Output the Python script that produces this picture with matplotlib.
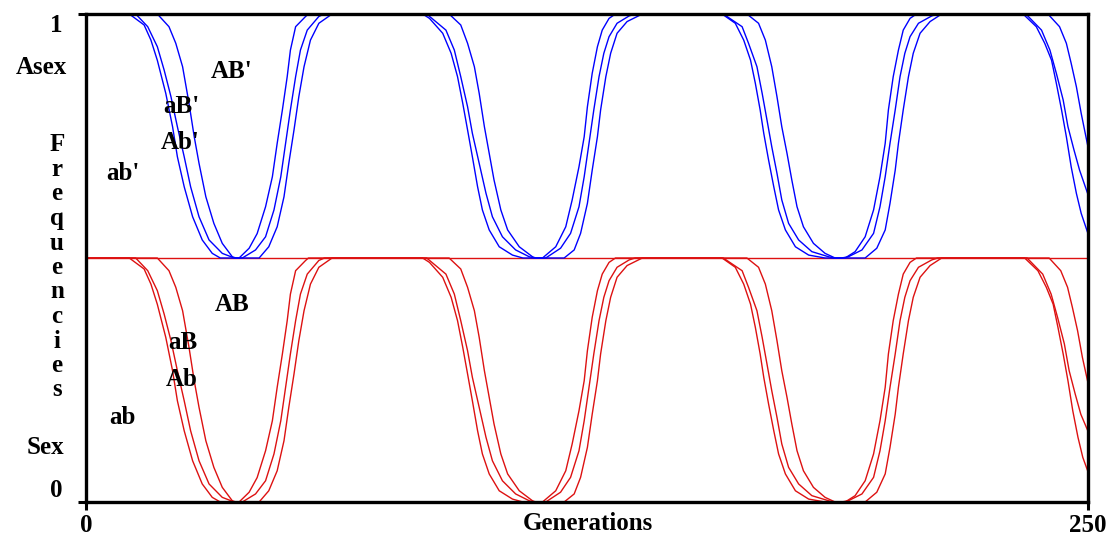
import matplotlib
matplotlib.use("Agg")
import matplotlib.pyplot as plt

# ---------------- data (generation, stacked cumulative fraction within each half) -------------
# Asexual population (top half, blue)
asex_ab_gen = [0, 10.8, 14.5, 16.2, 17.8, 19.9, 21.6, 22.8, 24.5, 26.6, 29.0, 31.5, 33.5,
               43.2, 45.6, 47.7, 49.4, 50.6, 51.9, 53.1, 54.4, 56.0, 58.1, 61.4,
               84.0, 85.7, 89.0, 91.1, 92.7, 94.0, 95.2, 96.4, 97.7, 98.9, 100.6, 103.1, 106.4, 109.0,
               119.3, 121.8, 123.4, 125.1, 126.3, 127.6, 128.4, 129.7, 130.9, 132.5, 135.0, 138.8,
               158.7, 162.0, 164.1, 165.8, 167.0, 168.2, 169.1, 170.3, 171.6, 172.8, 174.5, 177.0, 180.3, 184.4,
               194.4, 197.3, 199.4, 200.6, 201.9, 202.7, 203.9, 205.2, 206.4, 208.1, 210.6, 213.5,
               233.8, 237.1, 239.2, 240.9, 242.1, 243.4, 244.6, 245.8, 247.1, 248.3, 250]
asex_ab_val = [1, 1, 0.955, 0.893, 0.81, 0.675, 0.538, 0.415, 0.292, 0.169, 0.074, 0.019, 0,
               0, 0.046, 0.128, 0.251, 0.388, 0.525, 0.661, 0.784, 0.893, 0.962, 1,
               1, 0.982, 0.921, 0.839, 0.743, 0.634, 0.525, 0.415, 0.292, 0.197, 0.115, 0.046, 0.012, 0,
               0, 0.033, 0.101, 0.224, 0.36, 0.497, 0.607, 0.743, 0.839, 0.921, 0.969, 1,
               1, 0.962, 0.893, 0.811, 0.716, 0.607, 0.511, 0.402, 0.292, 0.197, 0.115, 0.046, 0.012, 0,
               0, 0.04, 0.115, 0.224, 0.36, 0.47, 0.607, 0.743, 0.839, 0.921, 0.969, 1,
               1, 0.948, 0.88, 0.811, 0.716, 0.607, 0.497, 0.374, 0.265, 0.183, 0.10]

asex_Ab_gen = [0, 12.4, 15.4, 17.8, 19.5, 21.2, 22.8, 24.5, 26.1, 28.2, 30.7, 34.0, 37.0,
               39.0, 42.3, 44.8, 46.9, 48.6, 49.8, 51.0, 52.3, 53.5, 55.2, 58.1, 59.5,
               85.0, 89.8, 91.9, 93.5, 95.2, 96.4, 98.1, 99.8, 101.4, 103.9, 107.2, 110.6, 112.0,
               114.7, 118.4, 120.9, 123.0, 124.3, 125.5, 126.7, 128.0, 129.2, 130.5, 132.5, 135.5, 137.0,
               159.0, 163.7, 165.3, 167.4, 168.7, 169.9, 171.1, 172.4, 173.6, 175.3, 177.8, 181.1, 185.3, 186.5,
               188.5, 190.2, 193.6, 196.5, 198.1, 199.4, 200.6, 201.9, 203.1, 204.3, 205.6, 207.7, 211.0, 212.5,
               234.5, 238.4, 240.5, 242.1, 243.8, 245.0, 246.5, 247.9, 250]
asex_Ab_val = [1, 1, 0.948, 0.866, 0.77, 0.661, 0.538, 0.415, 0.292, 0.169, 0.074, 0.019, 0,
               0, 0.033, 0.087, 0.197, 0.333, 0.47, 0.607, 0.743, 0.852, 0.934, 0.99, 1,
               1, 0.934, 0.852, 0.743, 0.62, 0.511, 0.388, 0.265, 0.169, 0.087, 0.033, 0.005, 0,
               0, 0.04, 0.101, 0.21, 0.333, 0.47, 0.607, 0.743, 0.839, 0.907, 0.962, 0.992, 1,
               1, 0.948, 0.88, 0.784, 0.675, 0.566, 0.456, 0.347, 0.238, 0.142, 0.074, 0.026, 0.005, 0,
               0, 0.005, 0.033, 0.101, 0.21, 0.333, 0.47, 0.607, 0.743, 0.839, 0.907, 0.962, 0.992, 1,
               1, 0.934, 0.852, 0.757, 0.648, 0.538, 0.443, 0.36, 0.26]

asex_aB_gen = [0, 17.8, 20.7, 22.4, 24.1, 25.7, 27.0, 28.2, 29.9, 31.9, 34.0, 36.5, 37.4,
               38.2, 40.7, 42.7, 44.8, 46.5, 47.7, 49.0, 50.2, 51.0, 52.3, 54.8, 55.5,
               90.6, 93.5, 95.2, 96.9, 98.1, 99.4, 100.6, 101.8, 103.5, 105.2, 108.1, 111.4, 112.2,
               113.9, 117.2, 119.7, 121.3, 123.0, 124.3, 125.1, 126.3, 127.6, 128.8, 130.5, 132.1,
               164.9, 167.8, 169.5, 171.1, 172.4, 173.6, 174.9, 176.1, 177.4, 179.0, 181.5, 184.4, 186.9,
               189.4, 191.9, 194.4, 196.5, 198.1, 199.4, 200.2, 201.4, 202.7, 203.9, 205.6, 207.2,
               240.0, 242.9, 244.6, 245.8, 247.1, 248.3, 250]
asex_aB_val = [1, 1, 0.948, 0.88, 0.784, 0.634, 0.497, 0.388, 0.251, 0.142, 0.06, 0.005, 0,
               0, 0.04, 0.10, 0.21, 0.333, 0.47, 0.607, 0.743, 0.852, 0.948, 0.99, 1,
               1, 0.955, 0.88, 0.784, 0.675, 0.538, 0.429, 0.32, 0.197, 0.115, 0.046, 0.005, 0,
               0, 0.046, 0.128, 0.238, 0.374, 0.497, 0.62, 0.757, 0.866, 0.934, 0.982, 1,
               1, 0.962, 0.893, 0.784, 0.661, 0.538, 0.429, 0.32, 0.21, 0.128, 0.06, 0.019, 0,
               0, 0.026, 0.087, 0.197, 0.333, 0.47, 0.607, 0.743, 0.852, 0.934, 0.982, 1,
               1, 0.948, 0.88, 0.798, 0.702, 0.593, 0.455]

# Sexual population (bottom half, red)
sex_ab_gen = [0, 10.8, 14.5, 16.2, 17.8, 19.9, 21.6, 22.8, 24.5, 26.6, 29.0, 31.5, 33.5,
              43.2, 45.6, 47.7, 49.4, 50.6, 51.9, 53.1, 54.4, 56.0, 58.1, 61.4,
              84.0, 85.7, 89.0, 91.1, 92.7, 94.0, 95.2, 96.4, 97.7, 98.9, 100.6, 103.1, 106.4, 109.0,
              119.3, 121.8, 123.4, 125.1, 126.3, 127.6, 128.4, 129.7, 130.9, 132.5, 135.0, 138.8,
              158.7, 162.0, 164.1, 165.8, 167.0, 168.2, 169.1, 170.3, 171.6, 172.8, 174.5, 177.0, 180.3, 184.4,
              194.4, 197.3, 199.4, 200.6, 201.9, 202.7, 203.9, 205.2, 206.4, 208.1, 210.6, 213.5,
              234.2, 237.5, 239.6, 241.3, 242.5, 243.8, 245.0, 246.2, 247.5, 248.7, 250]
sex_ab_val = [1, 1, 0.955, 0.893, 0.81, 0.675, 0.538, 0.415, 0.292, 0.169, 0.074, 0.019, 0,
              0, 0.046, 0.128, 0.251, 0.388, 0.525, 0.661, 0.784, 0.893, 0.962, 1,
              1, 0.982, 0.921, 0.839, 0.743, 0.634, 0.525, 0.415, 0.292, 0.197, 0.115, 0.046, 0.012, 0,
              0, 0.033, 0.101, 0.224, 0.36, 0.497, 0.607, 0.743, 0.839, 0.921, 0.969, 1,
              1, 0.962, 0.893, 0.811, 0.716, 0.607, 0.511, 0.402, 0.292, 0.197, 0.115, 0.046, 0.012, 0,
              0, 0.04, 0.115, 0.224, 0.36, 0.47, 0.607, 0.743, 0.839, 0.921, 0.969, 1,
              1, 0.948, 0.88, 0.811, 0.716, 0.607, 0.497, 0.374, 0.265, 0.183, 0.124]

sex_Ab_gen = [0, 12.4, 15.4, 17.8, 19.5, 21.2, 22.8, 24.5, 26.1, 28.2, 30.7, 34.0, 37.0,
              39.0, 42.3, 44.8, 46.9, 48.6, 49.8, 51.0, 52.3, 53.5, 55.2, 58.1, 59.5,
              85.0, 89.8, 91.9, 93.5, 95.2, 96.4, 98.1, 99.8, 101.4, 103.9, 107.2, 110.6, 112.0,
              114.7, 118.4, 120.9, 123.0, 124.3, 125.5, 126.7, 128.0, 129.2, 130.5, 132.5, 135.5, 137.0,
              159.0, 163.7, 165.3, 167.4, 168.7, 169.9, 171.1, 172.4, 173.6, 175.3, 177.8, 181.1, 185.3, 186.5,
              188.5, 190.2, 193.6, 196.5, 198.1, 199.4, 200.6, 201.9, 203.1, 204.3, 205.6, 207.7, 211.0, 212.5,
              234.8, 238.7, 240.8, 242.4, 244.1, 245.3, 246.8, 248.2, 250]
sex_Ab_val = [1, 1, 0.948, 0.866, 0.77, 0.661, 0.538, 0.415, 0.292, 0.169, 0.074, 0.019, 0,
              0, 0.033, 0.087, 0.197, 0.333, 0.47, 0.607, 0.743, 0.852, 0.934, 0.99, 1,
              1, 0.934, 0.852, 0.743, 0.62, 0.511, 0.388, 0.265, 0.169, 0.087, 0.033, 0.005, 0,
              0, 0.04, 0.101, 0.21, 0.333, 0.47, 0.607, 0.743, 0.839, 0.907, 0.962, 0.992, 1,
              1, 0.948, 0.88, 0.784, 0.675, 0.566, 0.456, 0.347, 0.238, 0.142, 0.074, 0.026, 0.005, 0,
              0, 0.005, 0.033, 0.101, 0.21, 0.333, 0.47, 0.607, 0.743, 0.839, 0.907, 0.962, 0.992, 1,
              1, 0.934, 0.852, 0.757, 0.648, 0.538, 0.443, 0.36, 0.29]

sex_aB_gen = [0, 17.8, 20.7, 22.4, 24.1, 25.7, 27.0, 28.2, 29.9, 31.9, 34.0, 36.5, 37.4,
              38.2, 40.7, 42.7, 44.8, 46.5, 47.7, 49.0, 50.2, 51.0, 52.3, 54.8, 55.5,
              90.6, 93.5, 95.2, 96.9, 98.1, 99.4, 100.6, 101.8, 103.5, 105.2, 108.1, 111.4, 112.2,
              113.9, 117.2, 119.7, 121.3, 123.0, 124.3, 125.1, 126.3, 127.6, 128.8, 130.5, 132.1,
              164.9, 167.8, 169.5, 171.1, 172.4, 173.6, 174.9, 176.1, 177.4, 179.0, 181.5, 184.4, 186.9,
              189.4, 191.9, 194.4, 196.5, 198.1, 199.4, 200.2, 201.4, 202.7, 203.9, 205.6, 207.2,
              240.3, 243.2, 244.9, 246.1, 247.4, 248.6, 250]
sex_aB_val = [1, 1, 0.948, 0.88, 0.784, 0.634, 0.497, 0.388, 0.251, 0.142, 0.06, 0.005, 0,
              0, 0.04, 0.10, 0.21, 0.333, 0.47, 0.607, 0.743, 0.852, 0.948, 0.99, 1,
              1, 0.955, 0.88, 0.784, 0.675, 0.538, 0.429, 0.32, 0.197, 0.115, 0.046, 0.005, 0,
              0, 0.046, 0.128, 0.238, 0.374, 0.497, 0.62, 0.757, 0.866, 0.934, 0.982, 1,
              1, 0.962, 0.893, 0.784, 0.661, 0.538, 0.429, 0.32, 0.21, 0.128, 0.06, 0.019, 0,
              0, 0.026, 0.087, 0.197, 0.333, 0.47, 0.607, 0.743, 0.852, 0.934, 0.982, 1,
              1, 0.948, 0.88, 0.798, 0.702, 0.593, 0.488]

x_ticks = [0, 250]
x_tick_labels = ["0", "250"]
asex_labels = ["AB'", "aB'", "Ab'", "ab'"]
sex_labels = ["AB", "aB", "Ab", "ab"]

# ---------------- figure -------------
W, H = 1116, 538
plt.rcParams['font.family'] = ['Liberation Serif', 'DejaVu Serif']
plt.rcParams['font.weight'] = 'bold'
FS = 18

fig = plt.figure(figsize=(W / 100, H / 100), dpi=100)
ax = fig.add_axes([86 / W, (H - 502) / H, (1088 - 86) / W, (502 - 14) / H])
ax.set_xlim(0, 250)
ax.set_ylim(0, 1)

RED = '#DD1111'
BLUE = '#0000FF'
LW = 1.0

# sexual half: y in [0, 0.5]
for g, v in [(sex_ab_gen, sex_ab_val), (sex_Ab_gen, sex_Ab_val), (sex_aB_gen, sex_aB_val)]:
    ax.plot(g, [0.5 * t for t in v], color=RED, lw=LW)
ax.axhline(0.5, color=RED, lw=LW)

# asexual half: y in [0.5, 1]
for g, v in [(asex_ab_gen, asex_ab_val), (asex_Ab_gen, asex_Ab_val), (asex_aB_gen, asex_aB_val)]:
    ax.plot(g, [0.5 + 0.5 * t for t in v], color=BLUE, lw=LW)
ax.axhline(1.0, color=BLUE, lw=LW)

for s in ax.spines.values():
    s.set_linewidth(2.4)
    s.set_color('black')
    s.set_zorder(5)

ax.set_xticks(x_ticks)
ax.set_xticklabels(x_tick_labels, fontsize=FS, fontweight='bold')
ax.set_yticks([0, 1])
ax.set_yticklabels(["0", "1"], fontsize=FS, fontweight='bold')
ax.tick_params(axis='both', direction='out', length=6, width=2.2, color='black')
ax.tick_params(axis='x', pad=3)
ax.tick_params(axis='y', pad=11)
ylab = ax.get_yticklabels()
ylab[0].set_verticalalignment('bottom')
ylab[1].set_verticalalignment('top')

# genotype labels inside the plot
asex_pos = [(36.4, 0.883), (23.7, 0.811), (23.4, 0.736), (9.2, 0.674)]
sex_pos = [(36.4, 0.404), (24.2, 0.326), (23.9, 0.250), (9.2, 0.174)]
for lab, (x, y) in zip(asex_labels, asex_pos):
    ax.text(x, y, lab, ha='center', va='center', fontsize=FS, fontweight='bold', zorder=6)
for lab, (x, y) in zip(sex_labels, sex_pos):
    ax.text(x, y, lab, ha='center', va='center', fontsize=FS, fontweight='bold', zorder=6)


def ftext(px, py, s, **kw):
    fig.text(px / W, 1 - py / H, s, ha='center', va='center', fontsize=FS, fontweight='bold', **kw)


ftext(41, 67, "Asex")
ftext(45, 448, "Sex")
for i, ch in enumerate("Frequencies"):
    ftext(57, 145 + i * 24.5, ch)
ftext(588, 523, "Generations")

fig.savefig("out.png", dpi=100)
